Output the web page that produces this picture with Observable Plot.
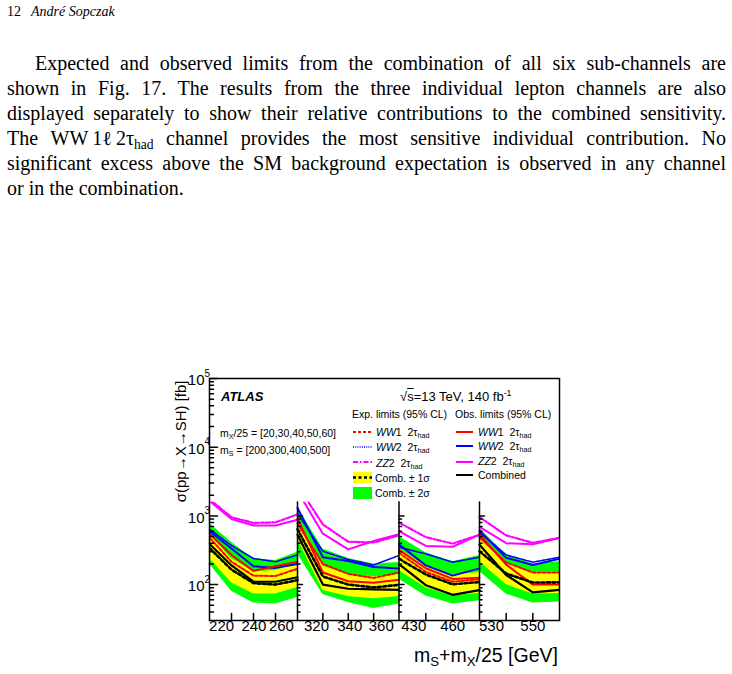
<!DOCTYPE html>
<html><head><meta charset="utf-8">
<script src="https://cdn.jsdelivr.net/npm/d3@7"></script>
<script src="https://cdn.jsdelivr.net/npm/@observablehq/plot@0.6"></script>
<style>
html,body{margin:0;padding:0;background:#fff;}
#page{position:relative;width:732px;height:674px;overflow:hidden;background:#fff;}
.serif{font-family:"Liberation Serif","DejaVu Serif",serif;color:#000;position:absolute;}
.line{left:7px;width:719px;font-size:20px;line-height:24px;height:24px;white-space:nowrap;text-align:justify;text-align-last:justify;}
.sans{font-family:"Liberation Sans",Arial,sans-serif;position:absolute;white-space:nowrap;line-height:14px;color:#000;}
.sub{font-size:68%;position:relative;top:0.3em;}
.sup{font-size:68%;position:relative;top:-0.55em;}
.grp{display:inline-block;}
#chart{position:absolute;left:0;top:355px;}
svg.sw{position:absolute;overflow:visible;}
</style></head>
<body><div id="page">
<div class="serif" style="left:7px;top:4px;font-size:14px;line-height:16px;">12</div>
<div class="serif" style="left:31px;top:4px;font-size:14px;line-height:16px;font-style:italic;">André Sopczak</div>

<div class="serif line" style="top:51px;text-indent:28px;">Expected and observed limits from the combination of all six sub-channels are</div>
<div class="serif line" style="top:76px;">shown in Fig. 17. The results from the three individual lepton channels are also</div>
<div class="serif line" style="top:101px;">displayed separately to show their relative contributions to the combined sensitivity.</div>
<div class="serif line" style="top:126px;">The <span class="grp">WW<span style="margin-left:4px">1ℓ</span><span style="margin-left:4px">2τ<span class="sub">had</span></span></span> channel provides the most sensitive individual contribution. No</div>
<div class="serif line" style="top:151px;">significant excess above the SM background expectation is observed in any channel</div>
<div class="serif" style="left:7px;top:176px;font-size:20px;line-height:24px;white-space:nowrap;">or in the combination.</div>

<div id="chart"></div>

<div class="sans" style="left:221px;top:390px;font-size:13px;font-weight:bold;font-style:italic;">ATLAS</div>
<div class="sans" style="left:400px;top:390px;font-size:13px;">√<span style="text-decoration:overline;">s</span>=13 TeV, 140 fb<span class="sup">-1</span></div>
<div class="sans" style="left:352px;top:407px;font-size:10.5px;">Exp. limits (95% CL)</div>
<div class="sans" style="left:455px;top:407px;font-size:10.5px;">Obs. limits (95% CL)</div>
<div class="sans" style="left:220px;top:426px;font-size:10.5px;">m<span class="sub">X</span>/25 = [20,30,40,50,60]</div>
<div class="sans" style="left:220px;top:443px;font-size:10.5px;">m<span class="sub">S</span> = [200,300,400,500]</div>

<div class="sans" style="left:376px;top:425px;font-size:10.5px;"><i>WW</i>1&nbsp;&nbsp;2τ<span class="sub">had</span></div>
<div class="sans" style="left:376px;top:440px;font-size:10.5px;"><i>WW</i>2&nbsp;&nbsp;2τ<span class="sub">had</span></div>
<div class="sans" style="left:376px;top:456px;font-size:10.5px;"><i>ZZ</i>2&nbsp;&nbsp;2τ<span class="sub">had</span></div>
<div class="sans" style="left:375px;top:471px;font-size:10.5px;">Comb. ± 1σ</div>
<div class="sans" style="left:375px;top:486px;font-size:10.5px;">Comb. ± 2σ</div>

<div class="sans" style="left:478px;top:425px;font-size:10.5px;"><i>WW</i>1&nbsp;&nbsp;2τ<span class="sub">had</span></div>
<div class="sans" style="left:478px;top:439px;font-size:10.5px;"><i>WW</i>2&nbsp;&nbsp;2τ<span class="sub">had</span></div>
<div class="sans" style="left:478px;top:454px;font-size:10.5px;"><i>ZZ</i>2&nbsp;&nbsp;2τ<span class="sub">had</span></div>
<div class="sans" style="left:478px;top:468px;font-size:10.5px;">Combined</div>

<svg class="sw" style="left:353px;top:428px" width="19" height="8"><line x1="0" y1="4" x2="19" y2="4" stroke="#ff0000" stroke-width="2" stroke-dasharray="3,2"/></svg>
<svg class="sw" style="left:353px;top:443px" width="19" height="8"><line x1="0" y1="4" x2="19" y2="4" stroke="#0000ff" stroke-width="1.6" stroke-dasharray="1,1.2"/></svg>
<svg class="sw" style="left:353px;top:458px" width="19" height="8"><line x1="0" y1="4" x2="19" y2="4" stroke="#ff00ff" stroke-width="2" stroke-dasharray="5,2,1.5,2"/></svg>
<svg class="sw" style="left:353px;top:472px" width="19" height="11"><rect x="0" y="0" width="19" height="11" fill="#ffff00"/><line x1="0" y1="5.5" x2="19" y2="5.5" stroke="#000" stroke-width="2.5" stroke-dasharray="3,2.5"/></svg>
<svg class="sw" style="left:353px;top:487px" width="19" height="12"><rect x="0" y="0" width="19" height="12" fill="#00ff00"/></svg>

<svg class="sw" style="left:456px;top:428px" width="17" height="8"><line x1="0" y1="4" x2="17" y2="4" stroke="#ff0000" stroke-width="2"/></svg>
<svg class="sw" style="left:456px;top:442px" width="17" height="8"><line x1="0" y1="4" x2="17" y2="4" stroke="#0000ff" stroke-width="2"/></svg>
<svg class="sw" style="left:456px;top:458px" width="17" height="8"><line x1="0" y1="4" x2="17" y2="4" stroke="#ff00ff" stroke-width="2"/></svg>
<svg class="sw" style="left:456px;top:471px" width="17" height="8"><line x1="0" y1="4" x2="17" y2="4" stroke="#000" stroke-width="2"/></svg>

<div class="sans" style="left:414px;top:643px;font-size:19.5px;line-height:24px;">m<span class="sub">S</span>+m<span class="sub">X</span>/25 [GeV]</div>
</div>
<script>
// x = mS + mX/25 ; four sub-panels (mS = 200, 300, 400, 500)
const massX  = [220,230,240,250,260, 320,330,340,350,360, 430,440,450,460, 530,540,550,560];
const panel  = [1,1,1,1,1, 2,2,2,2,2, 3,3,3,3, 4,4,4,4];

// expected limits [fb]
const expWW1  = [480,215,135,133,170, 775,200,143,125,150, 290,153,110,120, 490,210,150,150];
const expWW2  = [640,370,240,215,270, 1080,305,232,193,265, 350,280,212,250, 575,270,212,250];
const expZZ2  = [1750,955,790,805,1050, 2800,750,420,410,520, 800,490,395,530, 960,520,405,480];
const expComb = [340,165,105,100,116, 640,131,100,91,99, 238,140,101,109, 305,145,107,108];
// observed limits [fb]
const obsWW1  = [550,270,158,185,215, 915,150,112,106,118, 320,173,121,126, 540,195,100,100];
const obsWW2  = [600,335,185,175,200, 1300,250,220,180,172, 385,190,135,172, 610,245,193,238];
const obsZZ2  = [1650,900,725,725,880, 2300,550,325,430,540, 600,365,355,535, 690,400,385,476];
const obsComb = [390,190,110,110,128, 530,100,87,85,84, 198,98,71,83, 380,138,77,84];
// combined expected bands
const band2Hi = [780,410,238,225,295, 1350,330,240,200,210, 500,290,215,265, 660,275,200,215];
const band1Hi = [540,240,155,160,200, 950,185,140,130,140, 335,185,138,150, 470,205,152,152];
const band1Lo = [238,106,73,73,91, 460,82,67,62,67, 160,90,68,75, 215,100,73,74];
const band2Lo = [200,80,54,52,65, 280,72,55,45,52, 120,68,52,58, 155,73,54,56];

// axis ticks and labels
const yMajor = [100, 1000, 10000, 100000];
const yMinor = [40,50,60,70,80,90, 200,300,400,500,600,700,800,900, 2000,3000,4000,5000,6000,7000,8000,9000, 20000,30000,40000,50000,60000,70000,80000,90000];
const padMajor = [100, 1000];
const padMinor = [40,50,60,70,80,90, 200,300,400,500,600,700,800,900];
const xTicks = [230,240,250, 330,340,350, 440,450, 540,550];
const xTickLabels = ["220","240","260","320","340","360","430","460","530","550"];
const xTickLabelAt = [225.5,240.2,252.7, 327.5,340.6,353, 435.5,450, 534.5,550];
const panelEdges = [220,260,320,360,430,460,530,560];
const panelWidths = [88, 101.5, 80.5, 80]; // relative widths of the four sub-panels
const panelStarts = [320, 430, 530];
const yBottom = 30, yTop = 100000, padTop = 1600;

const rows = massX.map((x, i) => ({
  x, panel: panel[i],
  expWW1: expWW1[i], expWW2: expWW2[i], expZZ2: expZZ2[i], expComb: expComb[i],
  obsWW1: obsWW1[i], obsWW2: obsWW2[i], obsZZ2: obsZZ2[i], obsComb: obsComb[i],
  g2hi: band2Hi[i], g1hi: band1Hi[i], g1lo: band1Lo[i], g2lo: band2Lo[i]
}));

// piecewise mapping of the four sub-panels onto one shared axis
const cum = [0];
panelWidths.forEach(w => cum.push(cum[cum.length - 1] + w));
const panelMap = d3.scaleLinear().domain(panelEdges)
  .range([cum[0], cum[1], cum[1], cum[2], cum[2], cum[3], cum[3], cum[4]]);

const padTickRows = (vals) => panelStarts.flatMap(px => vals.map(v => ({x: px, y: v})));
const tickShape = {draw(ctx, l) { ctx.moveTo(0, 0); ctx.lineTo(0, -l); }};
const sans = "Liberation Sans, Arial, sans-serif";
const W = 732, H = 320, mL = 209, mR = 173, mT = 23, mB = 55;

const chart = Plot.plot({
  width: W, height: H,
  marginLeft: mL, marginRight: mR, marginTop: mT, marginBottom: mB,
  x: {transform: panelMap, axis: null},
  y: {type: "log", domain: [yBottom, yTop], axis: null},
  style: {background: "transparent", fontFamily: sans, color: "black"},
  marks: [
    Plot.areaY(rows, {x: "x", y1: "g2lo", y2: "g2hi", z: "panel", fill: "#00ff00"}),
    Plot.areaY(rows, {x: "x", y1: "g1lo", y2: "g1hi", z: "panel", fill: "#ffff00"}),
    Plot.line(rows, {x: "x", y: "expZZ2", z: "panel", stroke: "#ff00ff", strokeWidth: 2.2, strokeDasharray: "5,2,1.5,2"}),
    Plot.line(rows, {x: "x", y: "expWW2", z: "panel", stroke: "#0000ff", strokeWidth: 1.6, strokeDasharray: "1,1.2"}),
    Plot.line(rows, {x: "x", y: "expWW1", z: "panel", stroke: "#ff0000", strokeWidth: 2, strokeDasharray: "3,2"}),
    Plot.line(rows, {x: "x", y: "obsZZ2", z: "panel", stroke: "#ff00ff", strokeWidth: 2}),
    Plot.line(rows, {x: "x", y: "obsWW2", z: "panel", stroke: "#0000ff", strokeWidth: 2}),
    Plot.line(rows, {x: "x", y: "obsWW1", z: "panel", stroke: "#ff0000", strokeWidth: 2}),
    Plot.line(rows, {x: "x", y: "expComb", z: "panel", stroke: "black", strokeWidth: 2.6, strokeDasharray: "3,2.5"}),
    Plot.line(rows, {x: "x", y: "obsComb", z: "panel", stroke: "black", strokeWidth: 2.2}),
    Plot.ruleX(panelStarts, {x: d => d, y1: padTop, y2: yBottom, stroke: "black", strokeWidth: 1.5}),
    Plot.vector(yMajor, {y: d => d, frameAnchor: "left", length: 8, rotate: 90, anchor: "start", shape: tickShape, stroke: "black"}),
    Plot.vector(yMinor, {y: d => d, frameAnchor: "left", length: 4, rotate: 90, anchor: "start", shape: tickShape, stroke: "black"}),
    Plot.vector(padTickRows(padMajor), {x: "x", y: "y", length: 5, rotate: 90, anchor: "start", shape: tickShape, stroke: "black"}),
    Plot.vector(padTickRows(padMinor), {x: "x", y: "y", length: 2.5, rotate: 90, anchor: "start", shape: tickShape, stroke: "black"}),
    Plot.vector(xTicks, {x: d => d, frameAnchor: "bottom", length: 7, anchor: "start", shape: tickShape, stroke: "black"}),
    Plot.frame({stroke: "black", strokeWidth: 1.5}),
    Plot.text(yMajor, {y: d => d, text: () => "10", frameAnchor: "left", textAnchor: "end", dx: -5, dy: 2, fontSize: 15, fill: "black"}),
    Plot.text(yMajor, {y: d => d, text: d => String(Math.round(Math.log10(d))), frameAnchor: "left", textAnchor: "start", dx: -5, dy: -5, fontSize: 10, fill: "black"}),
    Plot.text(xTickLabels, {x: (d, i) => xTickLabelAt[i], text: d => d, frameAnchor: "bottom", dy: 10, fontSize: 15, fill: "black"}),
    Plot.text(["σ(pp→X→SH) [fb]"], {frameAnchor: "top-left", rotate: -90, textAnchor: "end", dx: -34, dy: 2, fontSize: 15, fill: "black"})
  ]
});

// clip curves and bands to the pads' upper edge
const ys = chart.scale("y");
const svg = d3.select(chart);
svg.append("defs").append("clipPath").attr("id", "padclip").append("rect")
  .attr("x", mL).attr("y", ys.apply(padTop))
  .attr("width", W - mL - mR).attr("height", ys.apply(yBottom) - ys.apply(padTop));
svg.selectAll('g[aria-label="line"], g[aria-label="area"]').attr("clip-path", "url(#padclip)");

document.getElementById("chart").appendChild(chart);
</script>
</body></html>
